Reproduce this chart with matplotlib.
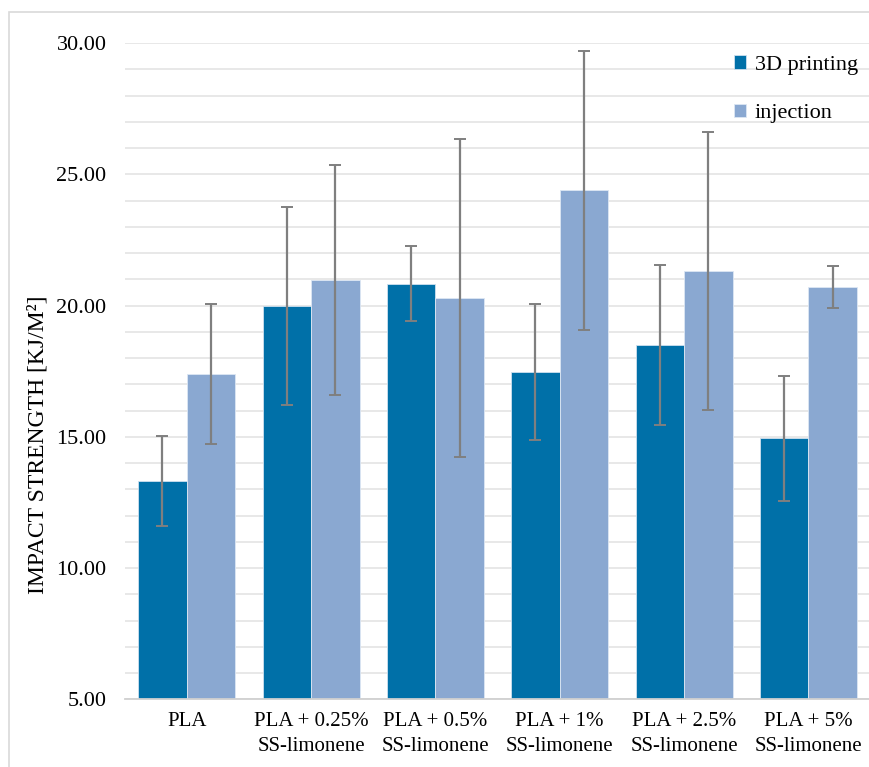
import matplotlib

matplotlib.use("Agg")
import matplotlib.pyplot as plt
import numpy as np
from matplotlib.patches import Rectangle

# Impact strength by formulation and processing route
CATEGORIAS = [
    "PLA",
    "PLA + 0.25%\nSS-limonene",
    "PLA + 0.5%\nSS-limonene",
    "PLA + 1%\nSS-limonene",
    "PLA + 2.5%\nSS-limonene",
    "PLA + 5%\nSS-limonene",
]
IMPRESION_3D = [13.32, 19.98, 20.84, 17.47, 18.50, 14.95]
IMPRESION_3D_ERR = [1.70, 3.78, 1.42, 2.60, 3.05, 2.38]
INYECCION = [17.40, 20.97, 20.30, 24.39, 21.32, 20.72]
INYECCION_ERR = [2.68, 4.38, 6.07, 5.30, 5.30, 0.80]

COLOR_3D = "#0070A8"
COLOR_INY = "#8AA8D1"
ANCHO = 0.39

plt.rcParams["font.family"] = ["Liberation Serif", "DejaVu Serif"]

fig = plt.figure(figsize=(8.69, 7.67), dpi=100)
ax = fig.add_axes([0.1433, 0.0883, 0.8585, 0.8553])

x = np.arange(len(CATEGORIAS))
err_kw = dict(ecolor="#7f7f7f", elinewidth=1.6, capsize=4.5, capthick=1.4)
ax.bar(x - ANCHO / 2, IMPRESION_3D, ANCHO, yerr=IMPRESION_3D_ERR, color=COLOR_3D,
       edgecolor="#cfe0ef", linewidth=0.6, label="3D printing", error_kw=err_kw,
       zorder=2)
ax.bar(x + ANCHO / 2, INYECCION, ANCHO, yerr=INYECCION_ERR, color=COLOR_INY,
       edgecolor="#dde7f3", linewidth=0.6, label="injection", error_kw=err_kw,
       zorder=2)

ax.set_xlim(-0.5, len(CATEGORIAS) - 0.5)
ax.set_ylim(5, 30)
ax.set_yticks(np.arange(5, 31, 5))
ax.set_yticks(np.arange(5, 31, 1), minor=True)
ax.set_yticklabels([f"{v:.2f}" for v in np.arange(5, 31, 5)])
ax.yaxis.grid(True, which="both", color="#e6e6e6", linewidth=1.3, zorder=0)
ax.set_axisbelow(True)

ax.set_xticks(x)
ax.set_xticklabels(CATEGORIAS, fontsize=15, linespacing=1.45)
ax.tick_params(axis="x", length=0, pad=9)
ax.tick_params(axis="y", which="both", length=0, pad=13, labelsize=16)

for lado in ("top", "right", "left"):
    ax.spines[lado].set_visible(False)
ax.spines["bottom"].set_color("#d0d0d0")
ax.spines["bottom"].set_linewidth(1.3)

ax.set_ylabel("IMPACT STRENGTH [KJ/M²]", fontsize=17)
ax.yaxis.set_label_coords(-0.102, 0.388)

ax.legend(loc="upper left", bbox_to_anchor=(0.79, 1.012), frameon=False,
          fontsize=16, handlelength=0.55, handleheight=0.55, handletextpad=0.4,
          labelspacing=1.3)

# marco exterior del gráfico
fig.add_artist(Rectangle((9 / 869, -0.1), 1.2, 1 - 12 / 767 + 0.1,
                         transform=fig.transFigure, fill=False,
                         edgecolor="#d9d9d9", linewidth=1.2, clip_on=False))

fig.savefig("out.png", dpi=100)
